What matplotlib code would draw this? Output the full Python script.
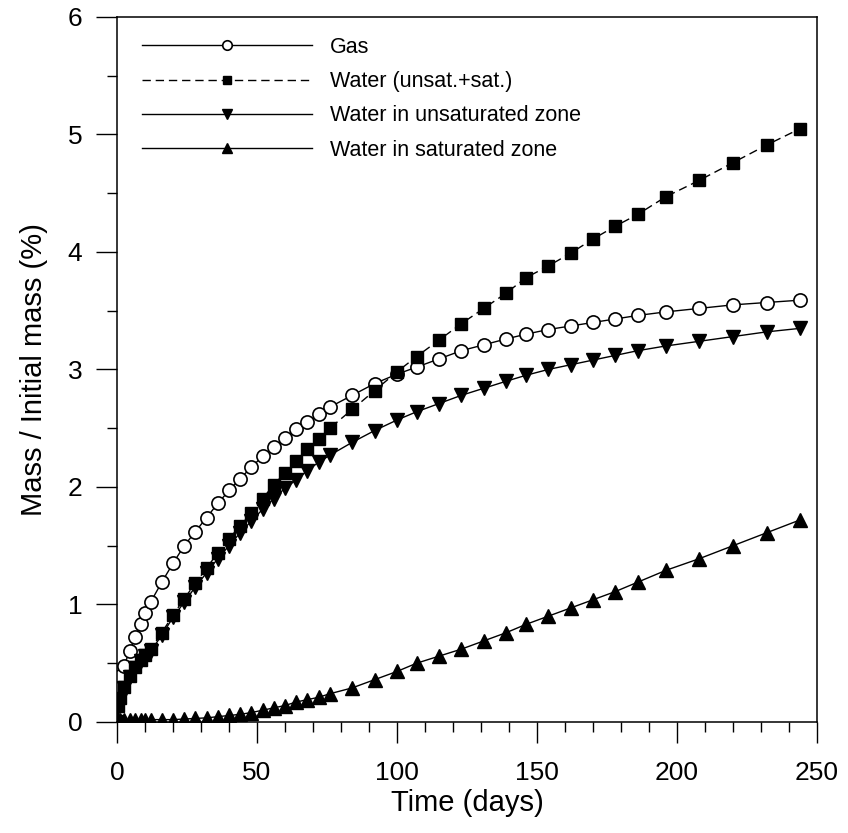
import matplotlib
matplotlib.use("Agg")
import matplotlib.pyplot as plt
from matplotlib.ticker import MultipleLocator

plt.rcParams["font.family"] = ["Liberation Sans", "DejaVu Sans"]

# ================================
# Data (mass released, % of initial mass)
# ================================

time_days = [0, 0.5, 1, 2.5, 4.5, 6.5, 8.5, 10, 12, 16, 20, 24, 28, 32, 36, 40,
             44, 48, 52, 56, 60, 64, 68, 72, 76, 84, 92, 100, 107, 115, 123,
             131, 139, 146, 154, 162, 170, 178, 186, 196, 208, 220, 232, 244]

gas = [0, 0.29, 0.39, 0.48, 0.60, 0.72, 0.83, 0.93, 1.02, 1.19, 1.35, 1.50,
       1.62, 1.74, 1.86, 1.97, 2.07, 2.17, 2.26, 2.34, 2.42, 2.49, 2.55, 2.62,
       2.68, 2.78, 2.88, 2.96, 3.02, 3.09, 3.16, 3.21, 3.26, 3.30, 3.34, 3.37,
       3.40, 3.43, 3.46, 3.49, 3.52, 3.55, 3.57, 3.59]

water_total = [0, 0.14, 0.20, 0.30, 0.39, 0.47, 0.53, 0.57, 0.62, 0.76, 0.91,
               1.05, 1.18, 1.31, 1.44, 1.56, 1.67, 1.78, 1.90, 2.02, 2.12, 2.22,
               2.32, 2.41, 2.50, 2.66, 2.82, 2.98, 3.11, 3.25, 3.39, 3.52, 3.65,
               3.78, 3.88, 3.99, 4.11, 4.22, 4.32, 4.47, 4.61, 4.76, 4.91, 5.05]

water_unsat = [0, 0.13, 0.19, 0.29, 0.38, 0.46, 0.52, 0.56, 0.60, 0.74, 0.89,
               1.02, 1.15, 1.27, 1.39, 1.50, 1.61, 1.71, 1.81, 1.90, 1.99, 2.06,
               2.14, 2.21, 2.27, 2.38, 2.48, 2.57, 2.64, 2.71, 2.78, 2.84, 2.90,
               2.95, 3.00, 3.04, 3.08, 3.12, 3.16, 3.20, 3.24, 3.28, 3.32, 3.35]

water_sat = [0, 0.02, 0.02, 0.02, 0.02, 0.02, 0.02, 0.02, 0.02, 0.02, 0.02,
             0.025, 0.03, 0.035, 0.045, 0.055, 0.065, 0.08, 0.10, 0.12, 0.14,
             0.17, 0.19, 0.21, 0.24, 0.29, 0.36, 0.43, 0.50, 0.56, 0.62, 0.69,
             0.76, 0.83, 0.90, 0.97, 1.04, 1.11, 1.19, 1.29, 1.39, 1.50, 1.61,
             1.72]

labels = ["Gas", "Water (unsat.+sat.)", "Water in unsaturated zone",
          "Water in saturated zone"]

# ================================
# Figure
# ================================

fig = plt.figure(figsize=(8.48, 8.33), dpi=100)
ax = fig.add_axes([0.138, 0.1333, 0.8254, 0.8463])

lw = 1.0
ax.plot(time_days, gas, color="black", lw=lw, marker="o", ms=9.5,
        mfc="white", mec="black", mew=1.2, label=labels[0])
ax.plot(time_days, water_total, color="black", lw=lw, dashes=(6, 3.5),
        marker="s", ms=8.8, mfc="black", mec="black", label=labels[1])
ax.plot(time_days, water_unsat, color="black", lw=lw, marker="v", ms=9.5,
        mfc="black", mec="black", label=labels[2])
ax.plot(time_days, water_sat, color="black", lw=lw, marker="^", ms=9.5,
        mfc="black", mec="black", label=labels[3])

ax.set_xlim(0, 250)
ax.set_ylim(0, 6)
ax.xaxis.set_major_locator(MultipleLocator(50))
ax.xaxis.set_minor_locator(MultipleLocator(10))
ax.yaxis.set_major_locator(MultipleLocator(1))
ax.yaxis.set_minor_locator(MultipleLocator(0.5))

ax.tick_params(which="both", direction="out", top=False, right=False,
               width=1.0, labelsize=19)
ax.tick_params(which="major", length=15, pad=10)
ax.tick_params(axis="x", which="major", pad=13)
ax.tick_params(which="minor", length=7.5)
for sp in ax.spines.values():
    sp.set_linewidth(1.1)

ax.set_xlabel("Time (days)", fontsize=21, labelpad=3)
ax.set_ylabel("Mass / Initial mass (%)", fontsize=21, labelpad=14)

leg = ax.legend(loc="upper left", bbox_to_anchor=(0.035, 0.972),
                frameon=False, fontsize=15.5, handlelength=7.9,
                handletextpad=0.85, labelspacing=0.62, borderpad=0,
                borderaxespad=0, markerscale=0.72)

fig.savefig("out.png", dpi=100)
